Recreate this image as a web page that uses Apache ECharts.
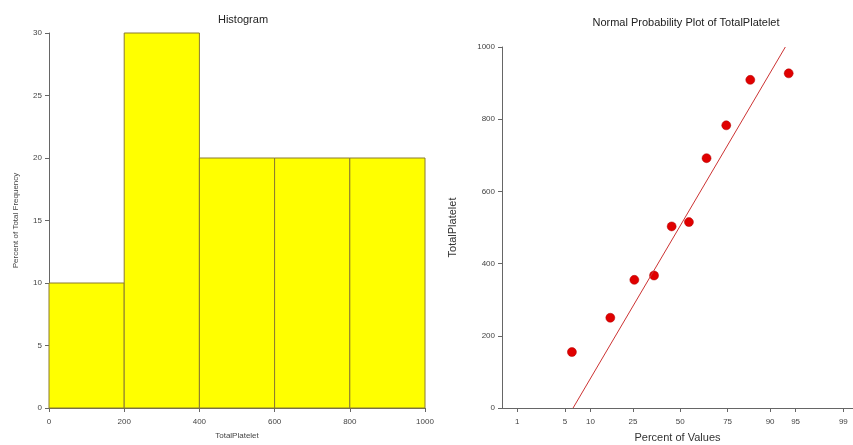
<!DOCTYPE html>
<html><head><meta charset="utf-8">
<script src="https://cdn.jsdelivr.net/npm/echarts@6/dist/echarts.min.js"></script>
<style>html,body{margin:0;padding:0;background:#fff}#c{width:853px;height:445px}</style>
</head><body><div id="c"></div>
<script>
// Histogram data
const binStarts = [0, 200, 400, 600, 800];
const binEnds = [200, 400, 600, 800, 1000];
const binPercents = [10, 30, 20, 20, 20];
// Normal probability plot data
const plotPercents = [6.1, 15.9, 25.6, 35.4, 45.1, 54.9, 64.6, 74.4, 84.1, 93.9];
const plotValues = [155, 250, 355, 367, 503, 515, 692, 783, 909, 927];
const fitLinePercents = [6.3, 93.3];
const fitLineValues = [0, 1000];
const probTickLabels = [1, 5, 10, 25, 50, 75, 90, 95, 99];

function invNorm(p) {
  const a=[-3.969683028665376e+01,2.209460984245205e+02,-2.759285104469687e+02,1.383577518672690e+02,-3.066479806614716e+01,2.506628277459239e+00];
  const b=[-5.447609879822406e+01,1.615858368580409e+02,-1.556989798598866e+02,6.680131188771972e+01,-1.328068155288572e+01];
  const c=[-7.784894002430293e-03,-3.223964580411365e-01,-2.400758277161838e+00,-2.549732539343734e+00,4.374664141464968e+00,2.938163982698783e+00];
  const d=[7.784695709041462e-03,3.224671290700398e-01,2.445134137142996e+00,3.754408661907416e+00];
  const pl=0.02425, ph=1-pl; let q,r;
  if(p<pl){q=Math.sqrt(-2*Math.log(p));return (((((c[0]*q+c[1])*q+c[2])*q+c[3])*q+c[4])*q+c[5])/((((d[0]*q+d[1])*q+d[2])*q+d[3])*q+1);}
  if(p<=ph){q=p-0.5;r=q*q;return (((((a[0]*r+a[1])*r+a[2])*r+a[3])*r+a[4])*r+a[5])*q/(((((b[0]*r+b[1])*r+b[2])*r+b[3])*r+b[4])*r+1);}
  q=Math.sqrt(-2*Math.log(1-p));return -(((((c[0]*q+c[1])*q+c[2])*q+c[3])*q+c[4])*q+c[5])/((((d[0]*q+d[1])*q+d[2])*q+d[3])*q+1);
}
const z = pc => invNorm(pc/100);
const tickZ = probTickLabels.map(z);
const labelMap = {};
tickZ.forEach((v,i)=>{labelMap[v.toFixed(6)] = String(probTickLabels[i]);});

const font = 'Liberation Sans, Arial, sans-serif';
const axisCol = '#666';
const txtCol = '#444';
const plain = v => String(v);

const histData = binStarts.map((s,i)=>[s, binEnds[i], binPercents[i]]);

const chart = echarts.init(document.getElementById('c'));
chart.setOption({
  animation:false,
  backgroundColor:'#fff',
  textStyle:{fontFamily:font},
  title:[
    {text:'Histogram', left:238, top:9, textAlign:'center', textStyle:{fontSize:11, fontWeight:'normal', color:'#222', fontFamily:font}},
    {text:'Normal Probability Plot of TotalPlatelet', left:681, top:12, textAlign:'center', textStyle:{fontSize:11, fontWeight:'normal', color:'#222', fontFamily:font}}
  ],
  grid:[
    {left:49, right:428, top:33, bottom:37, outerBoundsMode:'none', containLabel:false},
    {left:502, right:0, top:47, bottom:37, outerBoundsMode:'none', containLabel:false}
  ],
  xAxis:[
    {gridIndex:0, type:'value', min:0, max:1000, interval:200,
     name:'TotalPlatelet', nameLocation:'middle', nameGap:24,
     nameTextStyle:{fontSize:8, color:txtCol},
     axisLine:{lineStyle:{color:axisCol}}, axisTick:{show:true, length:4, lineStyle:{color:axisCol}},
     axisLabel:{fontSize:8, color:txtCol, margin:10, formatter:plain}, splitLine:{show:false}},
    {gridIndex:1, type:'value', min:-2.544, max:2.464,
     name:'Percent of Values', nameLocation:'middle', nameGap:24,
     nameTextStyle:{fontSize:11, color:'#333'},
     axisLine:{onZero:false, lineStyle:{color:axisCol}},
     axisTick:{show:true, length:4, customValues:tickZ, lineStyle:{color:axisCol}},
     axisLabel:{fontSize:8, color:txtCol, margin:10, customValues:tickZ, formatter:v=>labelMap[v.toFixed(6)]||''},
     splitLine:{show:false}}
  ],
  yAxis:[
    {gridIndex:0, type:'value', min:0, max:30, interval:5,
     name:'Percent of Total Frequency', nameLocation:'middle', nameGap:29,
     nameTextStyle:{fontSize:8, color:txtCol},
     axisLine:{show:true, lineStyle:{color:axisCol}}, axisTick:{show:true, length:4, lineStyle:{color:axisCol}},
     axisLabel:{fontSize:8, color:txtCol, margin:7, formatter:plain}, splitLine:{show:false}},
    {gridIndex:1, type:'value', min:0, max:1000, interval:200,
     name:'TotalPlatelet', nameLocation:'middle', nameGap:44,
     nameTextStyle:{fontSize:11, color:'#333'},
     axisLine:{show:true, onZero:false, lineStyle:{color:axisCol}}, axisTick:{show:true, length:4, lineStyle:{color:axisCol}},
     axisLabel:{fontSize:8, color:txtCol, margin:7, formatter:plain}, splitLine:{show:false}}
  ],
  series:[
    {type:'custom', xAxisIndex:0, yAxisIndex:0, data:histData,
     renderItem:function(params, api){
       const p0 = api.coord([api.value(0), 0]);
       const p1 = api.coord([api.value(1), api.value(2)]);
       return {type:'rect', shape:{x:p0[0], y:p1[1], width:p1[0]-p0[0], height:p0[1]-p1[1]},
               style:{fill:'#ffff00', stroke:'#8a7a30', lineWidth:1}};
     }},
    {type:'line', xAxisIndex:1, yAxisIndex:1, symbol:'none',
     data:fitLinePercents.map((p,i)=>[z(p), fitLineValues[i]]),
     lineStyle:{color:'#cc3333', width:1}},
    {type:'scatter', xAxisIndex:1, yAxisIndex:1, symbol:'circle', symbolSize:9,
     data:plotPercents.map((p,i)=>[z(p), plotValues[i]]),
     itemStyle:{color:'#e00000', borderColor:'#b00000', borderWidth:0.5, opacity:1}}
  ]
});
</script></body></html>
